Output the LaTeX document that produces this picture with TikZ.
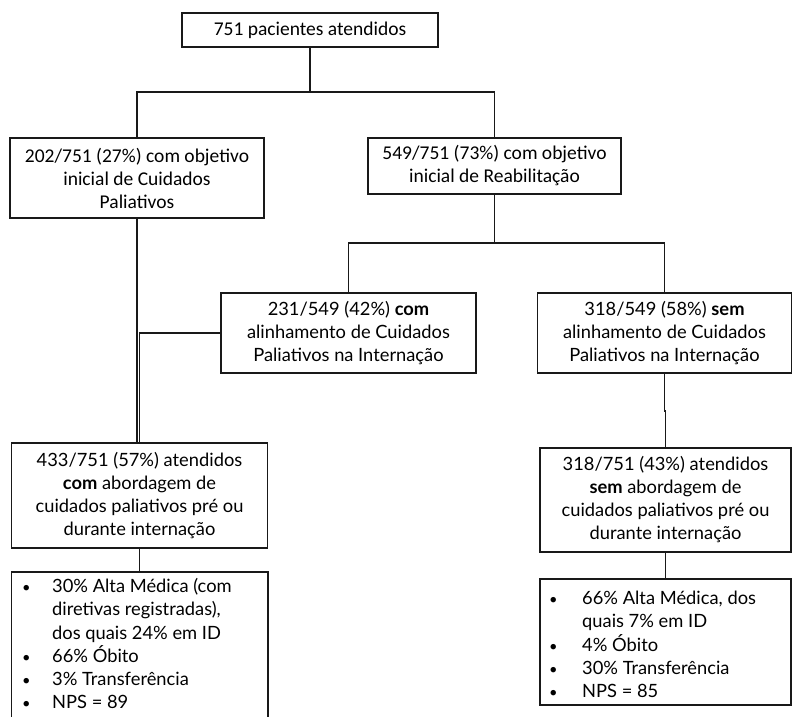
\documentclass[tikz,border=0pt]{standalone}
\usepackage{fontspec}
\setmainfont{Lato}
\newfontfamily\narrowf{Carlito}
\usetikzlibrary{calc}
\tikzset{
  box/.style={draw=black!90, line width=1.6pt, inner sep=0pt, align=center,
    font=\fontsize{18.3}{23}\selectfont},
  nbox/.style={box, font=\narrowf\fontsize{19.5}{23}\selectfont},
  conn/.style={draw=black!90, line width=1.6pt},
  listtxt/.style={inner sep=0pt, align=left, anchor=north west,
    font=\fontsize{18.3}{23.3}\selectfont},
}
\newcommand{\bul}[1]{\makebox[#1][l]{\scalebox{0.8}{•}}}
\begin{document}
\begin{tikzpicture}[x=1pt,y=-1pt]
\useasboundingbox (0,0) rectangle (792,717);

\node[nbox, minimum width=256pt, minimum height=34pt] (top) at (310,30) {751 pacientes atendidos};
\node[nbox, minimum width=254pt, minimum height=80pt] (cp) at (137,178)
  {202/751 (27\%) com objetivo\\inicial de Cuidados\\Paliativos};
\node[nbox, minimum width=253pt, minimum height=56pt] (rb) at (494.5,166)
  {549/751 (73\%) com objetivo\\inicial de Reabilitação};
\node[box, minimum width=255pt, minimum height=80pt] (mid) at (348.5,333)
  {231/549 (42\%) \textbf{com}\\alinhamento de Cuidados\\Paliativos na Internação};
\node[box, minimum width=254pt, minimum height=80pt] (sem) at (664.5,333)
  {318/549 (58\%) \textbf{sem}\\alinhamento de Cuidados\\Paliativos na Internação};
\node[box, minimum width=256pt, minimum height=105pt] (c57) at (139.5,495.5)
  {433/751 (57\%) atendidos\\\textbf{com} abordagem de\\cuidados paliativos pré ou\\durante internação};
\node[box, minimum width=251pt, minimum height=104pt] (s43) at (665.5,500)
  {318/751 (43\%) atendidos\\\textbf{sem} abordagem de\\cuidados paliativos pré ou\\durante internação};

% result boxes
\node[inner sep=0pt, minimum width=256pt, minimum height=150pt] (lres) at (139.5,647) {};
\draw[conn] (lres.south west) |- (lres.north east) -- (lres.south east);
\node[listtxt] (ltxt) at (22,578)
  {\bul{30pt}30\% Alta Médica (com\\\hspace*{30pt}diretivas registradas),\\\hspace*{30pt}dos quais 24\% em ID\\
   \bul{30pt}66\% Óbito\\\bul{30pt}3\% Transferência\\\bul{30pt}NPS = 89};
\node[box, minimum width=251pt, minimum height=126pt] (rres) at (665.5,642) {};
\node[listtxt] (rtxt) at (549,591)
  {\bul{33pt}66\% Alta Médica, dos\\\hspace*{33pt}quais 7\% em ID\\
   \bul{33pt}4\% Óbito\\\bul{33pt}30\% Transferência\\\bul{33pt}NPS = 85};

% connectors
\coordinate (j1) at (310,92);
\coordinate (j2) at (494.5,243);
\draw[conn] (top.south) -- (j1);
\draw[conn] (cp.north) |- (j1) -| (rb.north);
\draw[conn] (rb.south) -- (j2);
\draw[conn] (mid.north) |- (j2) -| (sem.north);
\draw[conn] (cp.south) -- (cp.south |- c57.north);
\draw[conn] (mid.west) -| (c57.north);
\coordinate (jog) at ($(sem.south)+(0,37)$);
\draw[conn] (sem.south) -- (jog) -- (jog -| s43.north) -- (s43.north);
\draw[conn] (s43.south) -- (rres.north);
\draw[conn] (c57.south) -- (lres.north);
\end{tikzpicture}
\end{document}
